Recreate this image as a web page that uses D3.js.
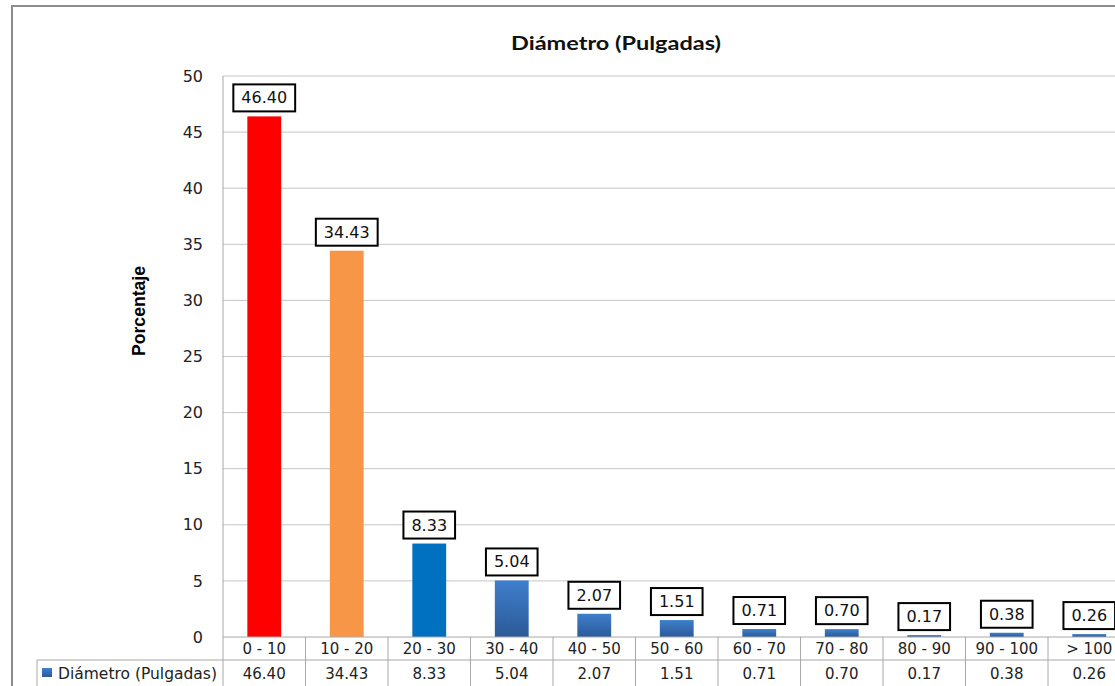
<!DOCTYPE html>
<html>
<head>
<meta charset="utf-8">
<script src="https://cdn.jsdelivr.net/npm/d3@7"></script>
<style>
  html, body { margin: 0; padding: 0; background: #fff; }
  svg { display: block; }
</style>
</head>
<body>
<svg id="chart" width="1115" height="686"></svg>
<script>
// Distribution of tree diameters (inches), percentage per class
const categories = ["0 - 10", "10 - 20", "20 - 30", "30 - 40", "40 - 50", "50 - 60",
                    "60 - 70", "70 - 80", "80 - 90", "90 - 100", "> 100"];
const values = [46.40, 34.43, 8.33, 5.04, 2.07, 1.51, 0.71, 0.70, 0.17, 0.38, 0.26];
const yTicks = [0, 5, 10, 15, 20, 25, 30, 35, 40, 45, 50];
const seriesName = "Diámetro (Pulgadas)";
const chartTitle = "Diámetro (Pulgadas)";
const yTitle = "Porcentaje";

const svg = d3.select("#chart");

// Gradient for the standard series fill
const defs = svg.append("defs");
const grad = defs.append("linearGradient")
  .attr("id", "blueFill").attr("x1", 0).attr("y1", 0).attr("x2", 0).attr("y2", 1);
grad.append("stop").attr("offset", "0%").attr("stop-color", "#3f7fcc");
grad.append("stop").attr("offset", "100%").attr("stop-color", "#2c5a98");

// Outer chart frame (extends past the right edge)
svg.append("path")
  .attr("d", "M12,686 L12,6 L1125,6")
  .attr("fill", "none").attr("stroke", "#8c8c8c").attr("stroke-width", 2);

const plotLeft = 223, colW = 82.5;
const plotTop = 76, plotBottom = 637;
const x = d3.scaleBand().domain(categories)
  .range([plotLeft, plotLeft + colW * categories.length]).padding(0);
const y = d3.scaleLinear().domain([0, 50]).range([plotBottom, plotTop]);

// Horizontal gridlines
svg.append("g").selectAll("line").data(yTicks.filter(d => d > 0)).join("line")
  .attr("x1", plotLeft).attr("x2", 1130)
  .attr("y1", d => y(d)).attr("y2", d => y(d))
  .attr("stroke", "#c6c6c6").attr("stroke-width", 1);

// Y axis with labels on the left
const yAxis = d3.axisLeft(y).tickValues(yTicks).tickSize(0).tickPadding(20);
const yG = svg.append("g").attr("transform", `translate(${plotLeft},0)`).call(yAxis);
yG.select(".domain").remove();
yG.selectAll("text")
  .attr("font-family", "DejaVu Sans, Verdana, sans-serif")
  .attr("font-size", 16).attr("fill", "#222");

// Y axis title
svg.append("text")
  .attr("transform", "translate(145,311) rotate(-90)")
  .attr("text-anchor", "middle")
  .attr("font-family", "Liberation Sans Narrow, Arial Narrow, Liberation Sans, sans-serif")
  .attr("font-weight", "bold").attr("font-size", 17.5).attr("fill", "#000")
  .attr("textLength", 90).attr("lengthAdjust", "spacingAndGlyphs")
  .text(yTitle);

// Chart title
svg.append("text")
  .attr("x", 616).attr("y", 50).attr("text-anchor", "middle")
  .attr("font-family", "Lato, Open Sans, sans-serif")
  .attr("font-weight", "bold").attr("font-size", 19.5).attr("fill", "#111")
  .attr("textLength", 210).attr("lengthAdjust", "spacingAndGlyphs")
  .text(chartTitle);

// Bars
const barW = x.bandwidth() * 0.41;
const fills = ["#ff0000", "#f79646", "#0070c0"];
svg.append("g").selectAll("rect").data(values).join("rect")
  .attr("x", (d, i) => x(categories[i]) + (x.bandwidth() - barW) / 2)
  .attr("y", d => y(d))
  .attr("width", barW)
  .attr("height", d => plotBottom - y(d))
  .attr("fill", (d, i) => fills[i] || "url(#blueFill)");

// Value labels in boxes above each bar
const lbl = svg.append("g").selectAll("g").data(values).join("g");
lbl.each(function (d, i) {
  const g = d3.select(this);
  const cx = x(categories[i]) + x.bandwidth() / 2;
  const bottom = y(d) - 5;
  const t = g.append("text")
    .attr("x", cx).attr("y", bottom - 8).attr("text-anchor", "middle")
    .attr("font-family", "DejaVu Sans, Verdana, sans-serif")
    .attr("font-size", 16).attr("fill", "#111")
    .text(d.toFixed(2));
  const w = t.node().getComputedTextLength() + 16;
  g.insert("rect", "text")
    .attr("x", cx - w / 2).attr("y", bottom - 27)
    .attr("width", w).attr("height", 27)
    .attr("fill", "#fff").attr("stroke", "#000").attr("stroke-width", 2);
});

// Data table beneath the axis
const tableTop = plotBottom, rowMid = 660;
const tbl = svg.append("g").attr("stroke", "#a8a8a8").attr("stroke-width", 1).attr("fill", "none");
tbl.append("line").attr("x1", plotLeft).attr("x2", 1130).attr("y1", tableTop).attr("y2", tableTop);
tbl.append("line").attr("x1", 37).attr("x2", 1130).attr("y1", rowMid).attr("y2", rowMid);
tbl.append("line").attr("x1", 37).attr("x2", 37).attr("y1", rowMid).attr("y2", 686);
tbl.append("line").attr("x1", plotLeft).attr("x2", plotLeft).attr("y1", plotTop).attr("y2", 686);
tbl.selectAll(".sep").data(categories).join("line").attr("class", "sep")
  .attr("x1", d => x(d) + x.bandwidth()).attr("x2", d => x(d) + x.bandwidth())
  .attr("y1", tableTop).attr("y2", 686);

const tableFont = "DejaVu Sans, Verdana, sans-serif";
svg.append("g").selectAll("text").data(categories).join("text")
  .attr("x", d => x(d) + x.bandwidth() / 2).attr("y", 654)
  .attr("text-anchor", "middle").attr("font-family", tableFont)
  .attr("font-size", 15).attr("fill", "#222").text(d => d);
svg.append("g").selectAll("text").data(values).join("text")
  .attr("x", (d, i) => x(categories[i]) + x.bandwidth() / 2).attr("y", 679)
  .attr("text-anchor", "middle").attr("font-family", tableFont)
  .attr("font-size", 15).attr("fill", "#222").text(d => d.toFixed(2));

// Legend key inside the table
svg.append("rect").attr("x", 42).attr("y", 668).attr("width", 10).attr("height", 9)
  .attr("fill", "url(#blueFill)");
svg.append("text").attr("x", 58).attr("y", 679)
  .attr("font-family", tableFont).attr("font-size", 15.5).attr("fill", "#222")
  .text(seriesName);
</script>
</body>
</html>
